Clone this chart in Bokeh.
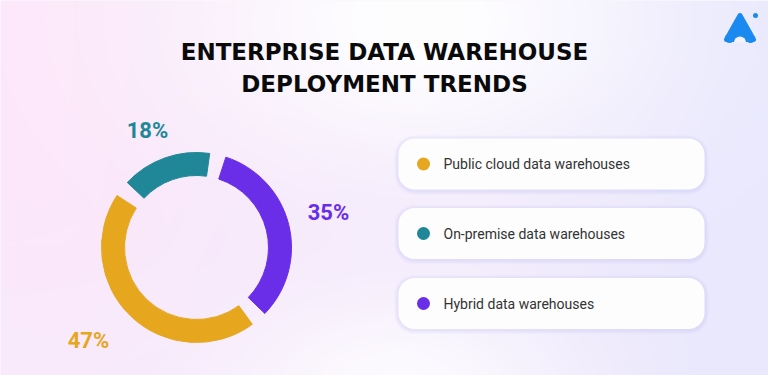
import numpy as np
from bokeh.plotting import figure
from bokeh.models import Range1d, ColumnDataSource
from bokeh.core.properties import value
from bokeh.embed import file_html
from bokeh.resources import INLINE

# ---- data ----
categories = ["Public cloud data warehouses", "On-premise data warehouses", "Hybrid data warehouses"]
shares = [47, 18, 35]
colors = ["#E6A61E", "#1F8797", "#6A2EE8"]
pct_labels = ["47%", "18%", "35%"]
title_lines = ["ENTERPRISE DATA WAREHOUSE", "DEPLOYMENT TRENDS"]

W, H = 768, 375

def Y(yref):
    return H - yref

p = figure(width=W, height=H, output_backend="svg", toolbar_location=None,
           x_range=Range1d(0, W), y_range=Range1d(0, H),
           min_border=0, outline_line_color=None)
p.axis.visible = False
p.grid.visible = False
p.background_fill_color = "#f6f1fc"
p.border_fill_color = "#f6f1fc"

# ---- background gradient ----
xs = np.linspace(0, W, W)
ys = np.linspace(0, H, H)  # data y (bottom -> top)
X, Yd = np.meshgrid(xs, ys)
yref = H - Yd
t = np.clip((X - 60) / 660, 0, 1)[..., None]
left = np.array([252, 231, 250], float)
right = np.array([233, 232, 253], float)
base = left * (1 - t) + right * t
# lower-left gets a little more lavender
s = np.clip((yref - 200) / 175, 0, 1)[..., None] * (1 - t) * 0.5
base = base * (1 - s) + np.array([244, 238, 253], float) * s
wt = 0.95 * np.exp(-((X - 420) ** 2) / (2 * 170 ** 2) - ((yref - 20) ** 2) / (2 * 110 ** 2))
wb = 0.8 * np.exp(-((X - 400) ** 2) / (2 * 120 ** 2) - ((yref - 390) ** 2) / (2 * 70 ** 2))
w = np.clip(wt + wb, 0, 1)[..., None]
col = base * (1 - w) + 255 * w
img = np.empty((H, W), dtype=np.uint32)
view = img.view(dtype=np.uint8).reshape((H, W, 4))
view[..., 0] = col[..., 0].astype(np.uint8)
view[..., 1] = col[..., 1].astype(np.uint8)
view[..., 2] = col[..., 2].astype(np.uint8)
view[..., 3] = 255
p.image_rgba(image=[img], x=0, y=0, dw=W, dh=H)

# ---- title ----
p.text(x=[384, 384], y=[Y(51), Y(83)], text=title_lines,
       text_font=value("DejaVu Sans"), text_font_style="bold", text_font_size="23px",
       text_color="#0a0a0a", text_align="center", text_baseline="middle")

# ---- donut ----
cx, cy = 196, Y(247)
r_out, r_in = 95, 72
gap = 10.0
start_deg = 77.0  # boundary between on-premise and hybrid (top)
# clockwise order from top: Hybrid, Public cloud, On-premise
order = [2, 0, 1]
total = float(sum(shares))
cur = start_deg
starts, ends, cols = [], [], []
for i in order:
    span = shares[i] / total * 360.0
    a1 = cur - gap / 2
    a0 = cur - span + gap / 2
    starts.append(np.deg2rad(a0))
    ends.append(np.deg2rad(a1))
    cols.append(colors[i])
    cur -= span
src = ColumnDataSource(dict(x=[cx] * 3, y=[cy] * 3, s=starts, e=ends, c=cols))
p.annular_wedge(x="x", y="y", inner_radius=r_in, outer_radius=r_out,
                start_angle="s", end_angle="e", fill_color="c", line_color="c",
                line_width=1, line_join="round", source=src)

# percent labels
lab_x = [88, 147, 328]
lab_y = [Y(340), Y(130), Y(212)]
p.text(x=lab_x, y=lab_y, text=pct_labels, text_color=colors,
       text_font=value("Roboto"), text_font_style="bold", text_font_size="22px",
       text_align="center", text_baseline="middle")

# ---- legend cards ----
card_cy = [Y(163.5), Y(233), Y(303)]
card_l, card_r, card_h = 398, 704, 51
for k in range(4, 0, -1):
    p.quad(left=[card_l - k] * 3, right=[card_r + k] * 3,
           bottom=[c - card_h / 2 - k - 1 for c in card_cy],
           top=[c + card_h / 2 + k - 1 for c in card_cy],
           fill_color="#b9b2ee", fill_alpha=0.07, line_color=None,
           border_radius=16 + k)
p.quad(left=[card_l] * 3, right=[card_r] * 3,
       bottom=[c - card_h / 2 for c in card_cy], top=[c + card_h / 2 for c in card_cy],
       fill_color="#fdfdfd", line_color=None, border_radius=16)
p.scatter(x=[423] * 3, y=card_cy, size=13, marker="circle",
          fill_color=colors, line_color=None)
p.text(x=[443] * 3, y=card_cy, text=categories, text_color="#333333",
       text_font=value("Roboto"), text_font_size="14px",
       text_align="left", text_baseline="middle")

# ---- logo (approximate) ----
p.patch(x=[726, 739.5, 753], y=[Y(39), Y(15), Y(39)], fill_color="#1B8AF0",
        line_color="#1B8AF0", line_width=5, line_join="round")
p.scatter(x=[729, 750], y=[Y(38), Y(38)], size=9, fill_color="#1B8AF0", line_color=None)
p.wedge(x=[739.5], y=[Y(42)], radius=6, start_angle=0, end_angle=np.pi,
        fill_color="#f3f1fc", line_color=None)
p.scatter(x=[755], y=[Y(15)], size=5, fill_color="#1B8AF0", line_color=None)

open("out.html", "w").write(file_html(p, INLINE))
